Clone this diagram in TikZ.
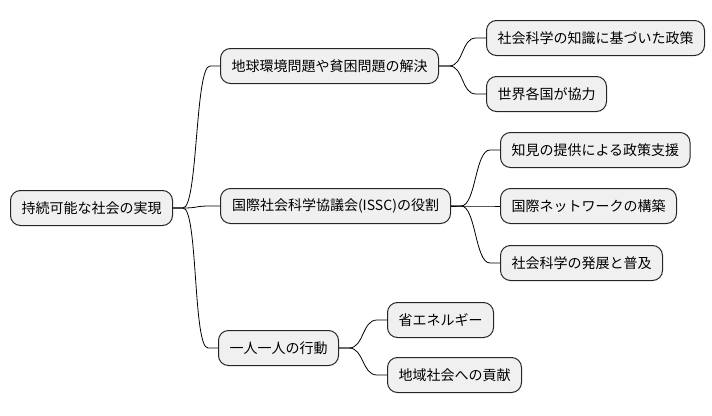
\documentclass[tikz,border=0pt]{standalone}
\usepackage{fontspec}
\setmainfont{Noto Sans CJK JP}
\usepackage{tikz}
\usetikzlibrary{positioning}

\begin{document}
\begin{tikzpicture}[x=1pt,y=-1pt,b/.style={draw=black!85,line width=1pt,rounded corners=10pt,fill=black!6,font=\fontsize{14}{16}\selectfont,minimum height=35pt,inner xsep=11pt,anchor=west},e/.style={line width=0.8pt}]
\useasboundingbox (0,0) rectangle (712,415);
\node[b,minimum width=162pt] (root) at (10,208) {持続可能な社会の実現};
\node[b] (prob) at (220,66) {地球環境問題や貧困問題の解決};
\node[b,minimum width=230pt] (issc) at (220,206) {国際社会科学協議会(ISSC)の役割};
\node[b] (act) at (218,348) {一人一人の行動};
\node[b] (pol) at (486,38) {社会科学の知識に基づいた政策};
\node[b] (coop) at (486,94) {世界各国が協力};
\node[b] (supp) at (500,150) {知見の提供による政策支援};
\node[b] (net) at (500,206) {国際ネットワークの構築};
\node[b] (dev) at (500,263) {社会科学の発展と普及};
\node[b] (save) at (387,320) {省エネルギー};
\node[b] (comm) at (387,375) {地域社会への貢献};
\foreach \p/\c in {root/prob,root/issc,root/act,prob/pol,prob/coop,issc/supp,issc/net,issc/dev,act/save,act/comm}
  \draw[e] (\p.east) -- ++(10,0) .. controls +(15,0) and +(-15,0) .. ([xshift=-10pt]\c.west) -- (\c.west);
\end{tikzpicture}
\end{document}
